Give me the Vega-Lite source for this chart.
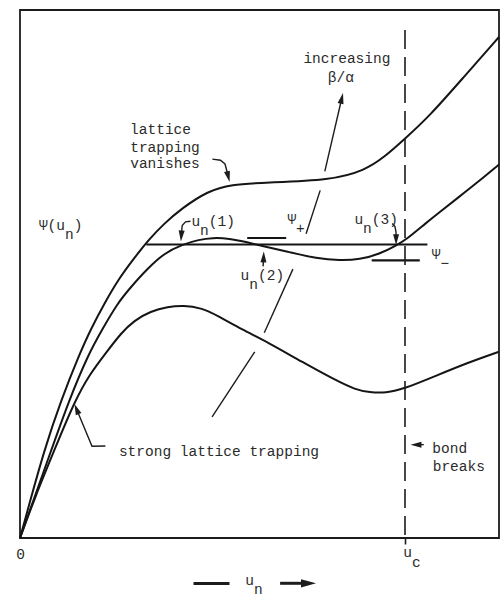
{
  "$schema": "https://vega.github.io/schema/vega-lite/v6.json",
  "width": 479,
  "height": 528,
  "autosize": {"type": "none"},
  "padding": {"left": 20, "top": 10, "right": 2, "bottom": 60},
  "background": "white",
  "config": {
    "view": {"stroke": "#1c1c1c", "strokeWidth": 1.8},
    "axis": {"labelFont": "Liberation Mono", "labelFontSize": 14.5, "labelColor": "#2b2b2b"}
  },
  "datasets": {
    "curves": [
      {"curve": "vanishes", "u": 0, "psi": 0},
      {"curve": "vanishes", "u": 9.9, "psi": 36.0},
      {"curve": "vanishes", "u": 23.8, "psi": 86.4},
      {"curve": "vanishes", "u": 40.7, "psi": 136.8},
      {"curve": "vanishes", "u": 59.6, "psi": 184.2},
      {"curve": "vanishes", "u": 71.1, "psi": 209.5},
      {"curve": "vanishes", "u": 84.6, "psi": 234.8},
      {"curve": "vanishes", "u": 98.0, "psi": 258.1},
      {"curve": "vanishes", "u": 114.6, "psi": 280.5},
      {"curve": "vanishes", "u": 129.2, "psi": 298.8},
      {"curve": "vanishes", "u": 143.8, "psi": 314.1},
      {"curve": "vanishes", "u": 161.5, "psi": 329.5},
      {"curve": "vanishes", "u": 188.1, "psi": 347.1},
      {"curve": "vanishes", "u": 211.0, "psi": 353.6},
      {"curve": "vanishes", "u": 245.0, "psi": 355.4},
      {"curve": "vanishes", "u": 311.0, "psi": 357.8},
      {"curve": "vanishes", "u": 344.8, "psi": 367.6},
      {"curve": "vanishes", "u": 364.5, "psi": 381.0},
      {"curve": "vanishes", "u": 384.1, "psi": 398.5},
      {"curve": "vanishes", "u": 409.6, "psi": 422.0},
      {"curve": "vanishes", "u": 442.8, "psi": 459.8},
      {"curve": "vanishes", "u": 479.0, "psi": 501.0},

      {"curve": "intermediate", "u": 0, "psi": 0},
      {"curve": "intermediate", "u": 12.9, "psi": 36.1},
      {"curve": "intermediate", "u": 30.8, "psi": 86.5},
      {"curve": "intermediate", "u": 48.7, "psi": 137.0},
      {"curve": "intermediate", "u": 68.7, "psi": 184.4},
      {"curve": "intermediate", "u": 81.2, "psi": 206.7},
      {"curve": "intermediate", "u": 97.6, "psi": 235.1},
      {"curve": "intermediate", "u": 112.2, "psi": 252.4},
      {"curve": "intermediate", "u": 126.8, "psi": 268.7},
      {"curve": "intermediate", "u": 144.5, "psi": 285.1},
      {"curve": "intermediate", "u": 162.3, "psi": 293.5},
      {"curve": "intermediate", "u": 179.2, "psi": 298.4},
      {"curve": "intermediate", "u": 192.2, "psi": 300.2},
      {"curve": "intermediate", "u": 209.2, "psi": 299.6},
      {"curve": "intermediate", "u": 226.3, "psi": 295.9},
      {"curve": "intermediate", "u": 241.4, "psi": 292.3},
      {"curve": "intermediate", "u": 269.5, "psi": 285.9},
      {"curve": "intermediate", "u": 296.7, "psi": 279.5},
      {"curve": "intermediate", "u": 319.7, "psi": 277.5},
      {"curve": "intermediate", "u": 339.7, "psi": 278.4},
      {"curve": "intermediate", "u": 359.6, "psi": 283.9},
      {"curve": "intermediate", "u": 376.4, "psi": 292.7},
      {"curve": "intermediate", "u": 386.3, "psi": 298.5},
      {"curve": "intermediate", "u": 405.9, "psi": 314.9},
      {"curve": "intermediate", "u": 418.7, "psi": 325.2},
      {"curve": "intermediate", "u": 438.4, "psi": 340.6},
      {"curve": "intermediate", "u": 458.1, "psi": 356.1},
      {"curve": "intermediate", "u": 479.0, "psi": 373.5},

      {"curve": "strong", "u": 0, "psi": 0},
      {"curve": "strong", "u": 14.8, "psi": 40.2},
      {"curve": "strong", "u": 33.8, "psi": 86.6},
      {"curve": "strong", "u": 54.7, "psi": 137.1},
      {"curve": "strong", "u": 70.1, "psi": 164.4},
      {"curve": "strong", "u": 85.7, "psi": 184.8},
      {"curve": "strong", "u": 101.2, "psi": 205.1},
      {"curve": "strong", "u": 114.0, "psi": 217.4},
      {"curve": "strong", "u": 130.7, "psi": 226.8},
      {"curve": "strong", "u": 147.7, "psi": 231.2},
      {"curve": "strong", "u": 163.6, "psi": 232.5},
      {"curve": "strong", "u": 180.7, "psi": 230.4},
      {"curve": "strong", "u": 197.9, "psi": 222.3},
      {"curve": "strong", "u": 221.2, "psi": 208.8},
      {"curve": "strong", "u": 248.5, "psi": 195.4},
      {"curve": "strong", "u": 281.9, "psi": 176.1},
      {"curve": "strong", "u": 315.4, "psi": 157.8},
      {"curve": "strong", "u": 335.6, "psi": 148.3},
      {"curve": "strong", "u": 349.6, "psi": 145.6},
      {"curve": "strong", "u": 365.7, "psi": 144.9},
      {"curve": "strong", "u": 384.6, "psi": 149.3},
      {"curve": "strong", "u": 415.3, "psi": 162.0},
      {"curve": "strong", "u": 449.0, "psi": 175.8},
      {"curve": "strong", "u": 479.0, "psi": 186.3}
    ],
    "levels": [
      {"level": "equal areas", "u": 126.3, "u2": 407.4, "psi": 293.5},
      {"level": "psi plus", "u": 227.2, "u2": 266.2, "psi": 300.0},
      {"level": "psi minus", "u": 351.7, "u2": 399.8, "psi": 277.7}
    ],
    "cutoff": [
      {"u": 385, "top": 508, "bottom": -5}
    ],
    "pointers": [
      {"arrow": "beta1", "seq": 1, "u": 192.1, "psi": 121.1},
      {"arrow": "beta1", "seq": 2, "u": 234.7, "psi": 186.1},
      {"arrow": "beta2", "seq": 1, "u": 244.3, "psi": 205.3},
      {"arrow": "beta2", "seq": 2, "u": 272.9, "psi": 268.9},
      {"arrow": "beta3", "seq": 1, "u": 286.1, "psi": 304.3},
      {"arrow": "beta3", "seq": 2, "u": 300.2, "psi": 347.6},
      {"arrow": "beta4", "seq": 1, "u": 304.8, "psi": 366.7},
      {"arrow": "beta4", "seq": 2, "u": 321.5, "psi": 438.5},
      {"arrow": "vanish", "seq": 1, "u": 192.4, "psi": 378.9},
      {"arrow": "vanish", "seq": 2, "u": 200.5, "psi": 377.8},
      {"arrow": "vanish", "seq": 3, "u": 205.0, "psi": 374.0},
      {"arrow": "vanish", "seq": 4, "u": 208.5, "psi": 361.0},
      {"arrow": "n1", "seq": 1, "u": 170.5, "psi": 316.7},
      {"arrow": "n1", "seq": 2, "u": 165.5, "psi": 316.2},
      {"arrow": "n1", "seq": 3, "u": 162.2, "psi": 312.5},
      {"arrow": "n1", "seq": 4, "u": 161.2, "psi": 302.0},
      {"arrow": "n2", "seq": 1, "u": 243.1, "psi": 271.6},
      {"arrow": "n2", "seq": 2, "u": 243.6, "psi": 281.0},
      {"arrow": "n3", "seq": 1, "u": 372.2, "psi": 314.5},
      {"arrow": "n3", "seq": 2, "u": 375.0, "psi": 311.5},
      {"arrow": "n3", "seq": 3, "u": 376.0, "psi": 306.0},
      {"arrow": "n3", "seq": 4, "u": 376.1, "psi": 298.5},
      {"arrow": "strong", "seq": 1, "u": 85.4, "psi": 92.0},
      {"arrow": "strong", "seq": 2, "u": 72.0, "psi": 91.7},
      {"arrow": "strong", "seq": 3, "u": 56.5, "psi": 129.0},
      {"arrow": "bond", "seq": 1, "u": 403.8, "psi": 93.4},
      {"arrow": "bond", "seq": 2, "u": 395.5, "psi": 93.3}
    ],
    "heads": [
      {"arrow": "beta", "u": 323.0, "psi": 445.1, "heading": 13},
      {"arrow": "vanish", "u": 209.6, "psi": 356.0, "heading": 166},
      {"arrow": "n1", "u": 160.9, "psi": 296.5, "heading": 184},
      {"arrow": "n2", "u": 243.8, "psi": 286.6, "heading": 2},
      {"arrow": "n3", "u": 376.1, "psi": 292.9, "heading": 180},
      {"arrow": "strong", "u": 54.5, "psi": 134.1, "heading": 338},
      {"arrow": "bond", "u": 390.5, "psi": 93.2, "heading": 270}
    ],
    "unitArrow": [
      {"part": "dash", "u": 173.5, "psi": -45.5},
      {"part": "dash", "u": 209.5, "psi": -45.5},
      {"part": "shaft", "u": 260.1, "psi": -45.3},
      {"part": "shaft", "u": 285.0, "psi": -45.3}
    ],
    "unitHead": [
      {"u": 296.0, "psi": -45.3, "heading": 90}
    ],
    "labels": [
      {"text": "Ψ(u\u00a0)", "u": 18.9, "psi": 308.4},
      {"text": "n", "u": 45.0, "psi": 299.4},
      {"text": "increasing", "u": 283.4, "psi": 475.2},
      {"text": "β/α", "u": 307.8, "psi": 455.8},
      {"text": "lattice", "u": 110.1, "psi": 403.7},
      {"text": "trapping", "u": 110.2, "psi": 386.4},
      {"text": "vanishes", "u": 110.2, "psi": 369.7},
      {"text": "u\u00a0(1)", "u": 171.4, "psi": 311.7},
      {"text": "n", "u": 180.1, "psi": 302.7},
      {"text": "u\u00a0(2)", "u": 220.6, "psi": 257.8},
      {"text": "n", "u": 229.3, "psi": 248.8},
      {"text": "u\u00a0(3)", "u": 334.4, "psi": 313.6},
      {"text": "n", "u": 343.1, "psi": 304.6},
      {"text": "Ψ", "u": 267.4, "psi": 313.8},
      {"text": "+", "u": 276.1, "psi": 304.8},
      {"text": "Ψ", "u": 411.7, "psi": 278.7},
      {"text": "−", "u": 420.4, "psi": 269.7},
      {"text": "strong lattice trapping", "u": 98.9, "psi": 82.3},
      {"text": "bond", "u": 412.3, "psi": 85.2},
      {"text": "breaks", "u": 412.7, "psi": 66.9},
      {"text": "u", "u": 383.2, "psi": -18.5},
      {"text": "c", "u": 391.9, "psi": -28.5},
      {"text": "u", "u": 225.3, "psi": -47.3},
      {"text": "n", "u": 234.0, "psi": -56.3}
    ]
  },
  "encoding": {
    "x": {
      "field": "u",
      "type": "quantitative",
      "scale": {"domain": [0, 479], "nice": false, "zero": false},
      "axis": {
        "values": [0, 385],
        "labelExpr": "datum.value === 0 ? '0' : ''",
        "domain": false,
        "grid": false,
        "ticks": true,
        "tickSize": 6,
        "tickWidth": 1.6,
        "tickColor": {"condition": {"test": "datum.value === 0", "value": "transparent"}, "value": "#1c1c1c"},
        "labelPadding": 3,
        "labelFlush": false,
        "labelOverlap": false,
        "title": null
      }
    },
    "y": {
      "field": "psi",
      "type": "quantitative",
      "scale": {"domain": [0, 528], "nice": false, "zero": false},
      "axis": null
    }
  },
  "layer": [
    {
      "data": {"name": "curves"},
      "mark": {"type": "line", "interpolate": "basis", "stroke": "#151515", "strokeWidth": 2},
      "encoding": {"detail": {"field": "curve"}}
    },
    {
      "data": {"name": "levels"},
      "mark": {"type": "rule", "stroke": "#151515", "strokeWidth": 2.2},
      "encoding": {"x2": {"field": "u2"}}
    },
    {
      "data": {"name": "cutoff"},
      "mark": {"type": "rule", "stroke": "#1c1c1c", "strokeWidth": 1.6, "strokeDash": [19, 8]},
      "encoding": {
        "y": {"field": "top", "type": "quantitative"},
        "y2": {"field": "bottom"}
      }
    },
    {
      "data": {"name": "pointers"},
      "mark": {"type": "line", "stroke": "#1c1c1c", "strokeWidth": 1.4},
      "encoding": {
        "detail": {"field": "arrow"},
        "order": {"field": "seq", "type": "quantitative"}
      }
    },
    {
      "data": {"name": "heads"},
      "mark": {"type": "point", "shape": "M0,0L-0.55,2L0.55,2Z", "filled": true, "size": 120, "color": "#1c1c1c", "opacity": 1, "strokeWidth": 0},
      "encoding": {"angle": {"field": "heading", "type": "quantitative", "scale": null}}
    },
    {
      "data": {"name": "unitArrow"},
      "mark": {"type": "line", "stroke": "#1c1c1c", "strokeWidth": 3},
      "encoding": {"detail": {"field": "part"}}
    },
    {
      "data": {"name": "unitHead"},
      "mark": {"type": "point", "shape": "M0,0L-0.55,2L0.55,2Z", "filled": true, "size": 225, "color": "#1c1c1c", "opacity": 1, "strokeWidth": 0},
      "encoding": {"angle": {"field": "heading", "type": "quantitative", "scale": null}}
    },
    {
      "data": {"name": "labels"},
      "mark": {"type": "text", "font": "Liberation Mono", "fontSize": 14.5, "align": "left", "baseline": "alphabetic", "color": "#2b2b2b"},
      "encoding": {"text": {"field": "text"}}
    }
  ]
}
